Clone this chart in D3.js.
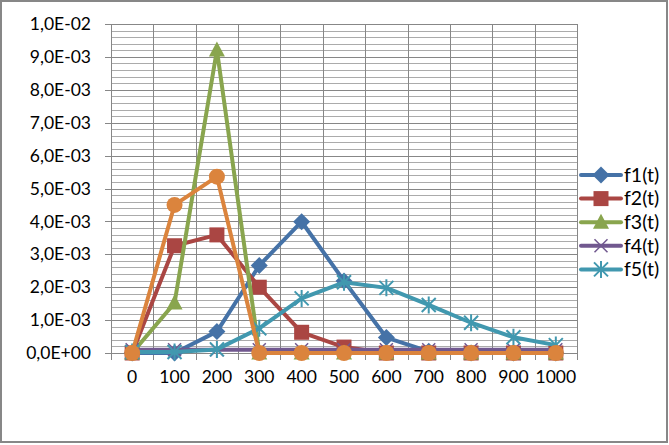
<!DOCTYPE html>
<html>
<head>
<meta charset="utf-8">
<script src="https://cdn.jsdelivr.net/npm/d3@7/dist/d3.min.js"></script>
<style>
  html, body { margin: 0; padding: 0; background: #fff; }
  svg { display: block; }
  text { font-family: Lato, "Open Sans", sans-serif; fill: #000; }
</style>
</head>
<body>
<svg id="chart" width="669" height="445"></svg>
<script>
// ---- data ----
const categories = [0, 100, 200, 300, 400, 500, 600, 700, 800, 900, 1000];
const f1 = [0, 0, 0.00065, 0.00266, 0.00399, 0.00219, 0.00047, 0.00005, 0, 0, 0];
const f2 = [0, 0.00326, 0.00359, 0.00200, 0.00063, 0.00018, 0, 0, 0, 0, 0];
const f3 = [0, 0.00152, 0.00921, 0, 0, 0, 0, 0, 0, 0, 0];
const f4 = [0.0001, 0.0001, 0.0001, 0.0001, 0.0001, 0.0001, 0.0001, 0.0001, 0.0001, 0.0001, 0.0001];
const f5 = [0.00003, 0.00003, 0.00011, 0.00075, 0.00166, 0.00215, 0.00198, 0.00146, 0.00092, 0.00048, 0.00024];
const f6 = [0, 0.00450, 0.00536, 0, 0, 0, 0, 0, 0, 0, 0];
const seriesNames = ["f1(t)", "f2(t)", "f3(t)", "f4(t)", "f5(t)", ""];
const seriesColors = ["#4572A7", "#AA4643", "#89A54E", "#71588F", "#4198AF", "#DB843D"];
const seriesMarkers = ["diamond", "square", "triangle", "x", "star", "circle"];
const yMax = 0.01, yStep = 0.001, yMinorStep = 0.0002;

const seriesValues = [f1, f2, f3, f4, f5, f6];

// ---- layout ----
const svg = d3.select("#chart");
const plot = { left: 111, right: 577, top: 24, bottom: 353 };

const x = d3.scaleBand().domain(categories).range([plot.left, plot.right]).paddingInner(0).paddingOuter(0);
const y = d3.scaleLinear().domain([0, yMax]).range([plot.bottom, plot.top]);

// outer border
svg.append("rect").attr("x", 1).attr("y", 1).attr("width", 666).attr("height", 441)
  .attr("fill", "#fff").attr("stroke", "#878787").attr("stroke-width", 2);

// minor gridlines
const minorTicks = d3.range(0, yMax + 1e-9, yMinorStep).filter((v, i) => i % 5 !== 0);
svg.append("g").selectAll("line").data(minorTicks).join("line")
  .attr("x1", plot.left).attr("x2", plot.right)
  .attr("y1", d => Math.round(y(d)) + 0.5).attr("y2", d => Math.round(y(d)) + 0.5)
  .attr("stroke", "#ababab").attr("stroke-width", 1);

// major gridlines
const majorTicks = d3.range(0, yMax + 1e-9, yStep);
svg.append("g").selectAll("line").data(majorTicks).join("line")
  .attr("x1", plot.left - 6).attr("x2", plot.right)
  .attr("y1", d => Math.round(y(d)) + 0.5).attr("y2", d => Math.round(y(d)) + 0.5)
  .attr("stroke", "#878787").attr("stroke-width", 1);

// vertical gridlines (category boundaries) + x tick marks
const bounds = categories.map(c => x(c)).concat([x.range()[1]]);
svg.append("g").selectAll("line").data(bounds).join("line")
  .attr("x1", d => Math.round(d) + 0.5).attr("x2", d => Math.round(d) + 0.5)
  .attr("y1", plot.top).attr("y2", plot.bottom + 7)
  .attr("stroke", "#878787").attr("stroke-width", 1);

// y-axis labels
function fmtE(v) {
  if (v === 0) return "0,0E+00";
  const e = Math.floor(Math.log10(v) + 1e-9);
  const m = v / Math.pow(10, e);
  const sign = e < 0 ? "-" : "+";
  return m.toFixed(1).replace(".", ",") + "E" + sign + String(Math.abs(e)).padStart(2, "0");
}
const yAxis = d3.axisLeft(y).tickValues(majorTicks).tickFormat(fmtE).tickSize(0).tickPadding(0);
const gy = svg.append("g").attr("transform", `translate(${plot.left - 20},0)`).call(yAxis);
gy.select(".domain").remove();
gy.selectAll("text").style("font-family", "Lato, sans-serif").style("font-size", "17.5px").attr("fill", "#000");

// x-axis labels
const xAxis = d3.axisBottom(x).tickSize(0).tickPadding(0);
const gx = svg.append("g").attr("transform", `translate(0,${plot.bottom + 18})`).call(xAxis);
gx.select(".domain").remove();
gx.selectAll("text").style("font-family", "Lato, sans-serif").style("font-size", "17.5px").attr("fill", "#000");

// markers
function drawMarker(g, type, cx, cy, color) {
  if (type === "diamond") {
    const r = 8.5;
    g.append("path").attr("d", `M${cx},${cy - r}L${cx + r},${cy}L${cx},${cy + r}L${cx - r},${cy}Z`).attr("fill", color);
  } else if (type === "square") {
    const s = 15;
    g.append("rect").attr("x", cx - s / 2).attr("y", cy - s / 2).attr("width", s).attr("height", s).attr("fill", color);
  } else if (type === "triangle") {
    const w = 16, h = 15;
    g.append("path").attr("d", `M${cx},${cy - h / 2 - 1}L${cx + w / 2},${cy + h / 2 - 1}L${cx - w / 2},${cy + h / 2 - 1}Z`).attr("fill", color);
  } else if (type === "x") {
    const r = 6.5;
    g.append("path").attr("d", `M${cx - r},${cy - r}L${cx + r},${cy + r}M${cx - r},${cy + r}L${cx + r},${cy - r}`)
      .attr("stroke", color).attr("stroke-width", 1.5).attr("fill", "none");
  } else if (type === "star") {
    const r = 7;
    g.append("path").attr("d", `M${cx - r},${cy - r}L${cx + r},${cy + r}M${cx - r},${cy + r}L${cx + r},${cy - r}M${cx},${cy - r - 1.5}L${cx},${cy + r + 1.5}`)
      .attr("stroke", color).attr("stroke-width", 2).attr("fill", "none");
  } else if (type === "circle") {
    g.append("circle").attr("cx", cx).attr("cy", cy).attr("r", 8).attr("fill", color);
  }
}

// series
const cx = c => x(c) + x.bandwidth() / 2;
seriesValues.forEach((vals, si) => {
  const g = svg.append("g");
  const pts = categories.map((c, i) => [cx(c), y(vals[i])]);
  const line = d3.line();
  g.append("path").attr("d", line(pts)).attr("fill", "none")
    .attr("stroke", seriesColors[si]).attr("stroke-width", 4).attr("stroke-linejoin", "round").attr("stroke-linecap", "round");
  pts.forEach(p => drawMarker(g, seriesMarkers[si], p[0], p[1], seriesColors[si]));
});

// legend (first five series)
const legend = svg.append("g");
const legY0 = 175, legDy = 23.6;
seriesNames.forEach((name, si) => {
  if (!name) return;
  const ly = legY0 + si * legDy;
  legend.append("line").attr("x1", 581).attr("x2", 621).attr("y1", ly).attr("y2", ly)
    .attr("stroke", seriesColors[si]).attr("stroke-width", 4).attr("stroke-linecap", "round");
  drawMarker(legend, seriesMarkers[si], 601, ly, seriesColors[si]);
  legend.append("text").attr("x", 624).attr("y", ly).attr("dy", "0.35em")
    .style("font-size", "19.5px").text(name);
});
</script>
</body>
</html>
